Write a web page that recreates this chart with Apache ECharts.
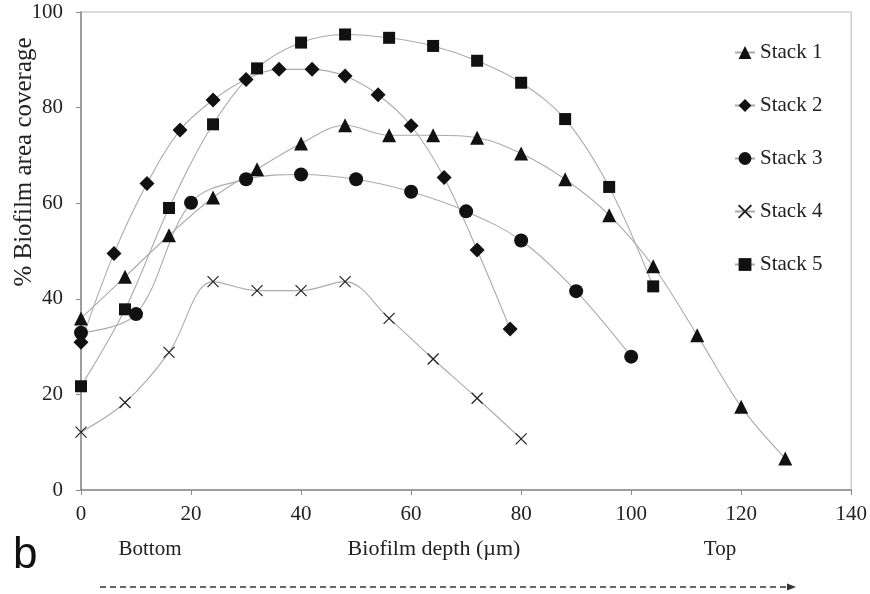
<!DOCTYPE html>
<html>
<head>
<meta charset="utf-8">
<script src="https://cdn.jsdelivr.net/npm/echarts@6/dist/echarts.min.js"></script>
<style>
html,body{margin:0;padding:0;background:#fff;}
#chart{width:870px;height:594px;}
</style>
</head>
<body>
<div id="chart"></div>
<script>
// ---- data ----
const stack1X = [0, 8, 16, 24, 32, 40, 48, 56, 64, 72, 80, 88, 96, 104, 112, 120, 128];
const stack1Y = [35.9, 44.6, 53.3, 61.2, 67.1, 72.5, 76.3, 74.2, 74.2, 73.7, 70.4, 65.0, 57.5, 46.8, 32.4, 17.4, 6.6];
const stack2X = [0, 6, 12, 18, 24, 30, 36, 42, 48, 54, 60, 66, 72, 78];
const stack2Y = [30.9, 49.5, 64.1, 75.3, 81.6, 85.9, 88.0, 88.0, 86.6, 82.7, 76.2, 65.4, 50.2, 33.7];
const stack3X = [0, 10, 20, 30, 40, 50, 60, 70, 80, 90, 100];
const stack3Y = [32.9, 36.8, 60.1, 65.0, 66.0, 65.0, 62.4, 58.3, 52.2, 41.6, 27.9];
const stack4X = [0, 8, 16, 24, 32, 40, 48, 56, 64, 72, 80];
const stack4Y = [12.1, 18.3, 28.8, 43.6, 41.7, 41.7, 43.6, 35.9, 27.4, 19.2, 10.7];
const stack5X = [0, 8, 16, 24, 32, 40, 48, 56, 64, 72, 80, 88, 96, 104];
const stack5Y = [21.7, 37.8, 59.0, 76.5, 88.2, 93.6, 95.3, 94.6, 92.9, 89.8, 85.2, 77.6, 63.4, 42.6];
const seriesNames = ['Stack 1', 'Stack 2', 'Stack 3', 'Stack 4', 'Stack 5'];
const xTicks = [0, 20, 40, 60, 80, 100, 120, 140];
const yTicks = [0, 20, 40, 60, 80, 100];

const FONT = '"Liberation Serif", "Times New Roman", serif';
const pairs = (xs, ys) => xs.map((x, i) => [x, ys[i]]);
const crossPath = 'path://M0,0L10,10M10,0L0,10';

function mk(name, data, symbol, size, extra) {
  return Object.assign({
    name: name,
    type: 'line',
    data: data,
    smooth: 0.35,
    symbol: symbol,
    symbolSize: size,
    showAllSymbol: true,
    lineStyle: { color: '#ababab', width: 1.1 },
    itemStyle: { color: '#111' },
    emphasis: { disabled: true },
    z: 3
  }, extra || {});
}

const chart = echarts.init(document.getElementById('chart'));
chart.setOption({
  animation: false,
  backgroundColor: '#fff',
  grid: { left: 81, right: 17, top: 12, bottom: 104, show: true, borderColor: '#cfcfcf', borderWidth: 1.5 },
  xAxis: {
    type: 'value', min: 0, max: 140, interval: 20,
    axisLine: { show: true, onZero: false, lineStyle: { color: '#8a8a8a', width: 1.5 } },
    axisTick: { show: true, length: 5, lineStyle: { color: '#8a8a8a' } },
    splitLine: { show: false },
    axisLabel: { margin: 14, color: '#222', fontFamily: FONT, fontSize: 21,
      formatter: v => xTicks.indexOf(v) >= 0 ? String(v) : '' }
  },
  yAxis: {
    type: 'value', min: 0, max: 100, interval: 20,
    axisLine: { show: true, onZero: false, lineStyle: { color: '#8a8a8a', width: 1.5 } },
    axisTick: { show: true, length: 5, lineStyle: { color: '#8a8a8a' } },
    splitLine: { show: false },
    axisLabel: { margin: 18, color: '#222', fontFamily: FONT, fontSize: 21,
      formatter: v => yTicks.indexOf(v) >= 0 ? String(v) : '' }
  },
  legend: {
    orient: 'vertical', left: 729, top: 37, itemGap: 32,
    itemWidth: 20, itemHeight: 16,
    textStyle: { fontFamily: FONT, fontSize: 21, color: '#222' },
    data: seriesNames
  },
  series: [
    mk(seriesNames[0], pairs(stack1X, stack1Y), 'triangle', 14),
    mk(seriesNames[1], pairs(stack2X, stack2Y), 'diamond', 15),
    mk(seriesNames[2], pairs(stack3X, stack3Y), 'circle', 14),
    mk(seriesNames[3], pairs(stack4X, stack4Y), crossPath, 11,
      { itemStyle: { color: 'none', borderColor: '#222', borderWidth: 1.2 } }),
    mk(seriesNames[4], pairs(stack5X, stack5Y), 'rect', 12)
  ],
  graphic: [
    { type: 'text', x: 24, y: 162, rotation: Math.PI / 2,
      style: { text: '% Biofilm area coverage', font: '25px ' + FONT, fill: '#222', align: 'center', verticalAlign: 'middle' } },
    { type: 'text', x: 150, y: 549,
      style: { text: 'Bottom', font: '21px ' + FONT, fill: '#222', align: 'center', verticalAlign: 'middle' } },
    { type: 'text', x: 434, y: 549,
      style: { text: 'Biofilm depth (µm)', font: '22px ' + FONT, fill: '#222', align: 'center', verticalAlign: 'middle' } },
    { type: 'text', x: 720, y: 549,
      style: { text: 'Top', font: '21px ' + FONT, fill: '#222', align: 'center', verticalAlign: 'middle' } },
    { type: 'text', x: 13, y: 556,
      style: { text: 'b', font: '44px "Liberation Sans", Arial, sans-serif', fill: '#111', align: 'left', verticalAlign: 'middle' } },
    { type: 'line', shape: { x1: 100, y1: 587, x2: 788, y2: 587 },
      style: { stroke: '#333', lineWidth: 1.3, lineDash: [6, 4] } },
    { type: 'polygon', shape: { points: [[787, 583.5], [796, 587], [787, 590.5]] },
      style: { fill: '#333' } }
  ]
});
</script>
</body>
</html>
